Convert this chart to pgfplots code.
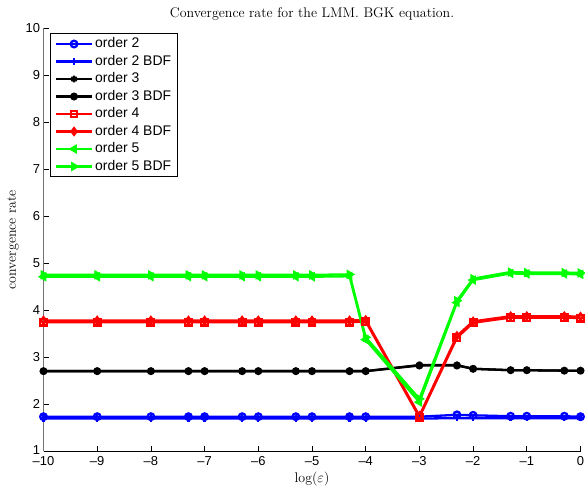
\documentclass[border=0pt]{standalone}
\usepackage{pgfplots}
\pgfplotsset{compat=1.18}
\usepackage{pgfplotstable}
\usepackage{fontspec}
\setsansfont{Liberation Sans}
\pgfplotstableread{
x      o2   o2b  o3   o3b  o4   o4b  o5   o5b
-10    1.73 1.69 2.70 2.70 3.74 3.78 4.71 4.75
-9     1.73 1.69 2.70 2.70 3.74 3.78 4.71 4.75
-8     1.73 1.69 2.70 2.70 3.74 3.78 4.71 4.75
-7.301 1.73 1.69 2.70 2.70 3.74 3.78 4.71 4.75
-7     1.73 1.69 2.70 2.70 3.74 3.78 4.71 4.75
-6.301 1.73 1.69 2.70 2.70 3.74 3.78 4.71 4.75
-6     1.73 1.69 2.70 2.70 3.74 3.78 4.71 4.75
-5.301 1.73 1.69 2.70 2.70 3.74 3.78 4.71 4.75
-5     1.73 1.69 2.70 2.70 3.74 3.78 4.71 4.75
-4.301 1.73 1.69 2.70 2.70 3.74 3.78 4.72 4.76
-4     1.73 1.69 2.70 2.70 3.76 3.79 3.37 3.42
-3     1.73 1.69 2.83 2.82 1.72 1.75 2.04 2.11
-2.301 1.77 1.70 2.83 2.82 3.41 3.45 4.16 4.20
-2     1.76 1.70 2.75 2.75 3.73 3.76 4.64 4.67
-1.301 1.74 1.70 2.72 2.72 3.84 3.87 4.78 4.81
-1     1.74 1.70 2.72 2.72 3.84 3.87 4.77 4.80
-0.301 1.74 1.70 2.71 2.71 3.84 3.87 4.77 4.80
0      1.73 1.70 2.71 2.71 3.83 3.86 4.76 4.79
}\data
\begin{document}
\begin{tikzpicture}
\begin{axis}[
  name=ax,
  scale only axis,
  width=537bp, height=422.7bp,
  xmin=-10, xmax=0, ymin=1, ymax=10,
  axis lines*=left,
  axis line style={-},
  x axis line style={draw=black, line width=0.8bp},
  y axis line style={draw=black!55, line width=1.4bp},
  tick align=inside,
  major tick length=5bp,
  every tick/.style={black, line width=0.7bp},
  xtick={-10,-9,-8,-7,-6,-5,-4,-3,-2,-1,0},
  xticklabels={\textendash10,\textendash9,\textendash8,\textendash7,\textendash6,\textendash5,\textendash4,\textendash3,\textendash2,\textendash1,0},
  ytick={1,2,3,4,5,6,7,8,9,10},
  yticklabels={1,2,3,4,5,6,7,8,9,10},
  tick label style={font=\sffamily\fontsize{13}{13}\selectfont},
  xticklabel style={yshift=-2bp},
  yticklabel style={yshift=0.5bp},
  title={Convergence rate for the LMM. BGK equation.},
  title style={font=\fontsize{14}{16}\selectfont, yshift=-2bp},
  xlabel={log($\varepsilon$)},
  ylabel={convergence rate},
  label style={font=\fontsize{14}{16}\selectfont},
  legend style={at={(axis description cs:0.0121,0.988)}, anchor=north west,
    font=\sffamily\fontsize{14}{16}\selectfont, draw=black, line width=0.8bp,
    inner xsep=4.5bp, inner ysep=1.5bp,
    nodes={text height=10.5bp, text depth=3bp, inner ysep=2bp, inner xsep=2bp}},
  legend cell align=left,
  legend image code/.code={\draw[mark repeat=2,mark phase=2,#1] plot coordinates {(0bp,0bp) (18bp,0bp) (36bp,0bp)};},
  every axis plot/.append style={line width=2.3bp, mark size=3.3bp},
]
\addplot[blue, mark=o] table[x=x,y=o2] {\data};
\addlegendentry{order 2}
\addplot[blue, mark=+] table[x=x,y=o2b] {\data};
\addlegendentry{order 2 BDF}
\addplot[black, mark=asterisk] table[x=x,y=o3] {\data};
\addlegendentry{order 3}
\addplot[black, mark=*, mark size=2.8bp] table[x=x,y=o3b] {\data};
\addlegendentry{order 3 BDF}
\addplot[red, mark=square] table[x=x,y=o4] {\data};
\addlegendentry{order 4}
\addplot[red, mark=diamond] table[x=x,y=o4b] {\data};
\addlegendentry{order 4 BDF}
\addplot[green, mark=triangle, mark options={rotate=90}] table[x=x,y=o5] {\data};
\addlegendentry{order 5}
\addplot[green, mark=triangle, mark options={rotate=-90}] table[x=x,y=o5b] {\data};
\addlegendentry{order 5 BDF}
\end{axis}
\path (ax.south west) ++(-43.5bp,-36bp) coordinate (bl);
\path (ax.north east) ++(4.5bp,28.3bp) coordinate (tr);
\pgfresetboundingbox
\useasboundingbox (bl) rectangle (tr);
\end{tikzpicture}
\end{document}
